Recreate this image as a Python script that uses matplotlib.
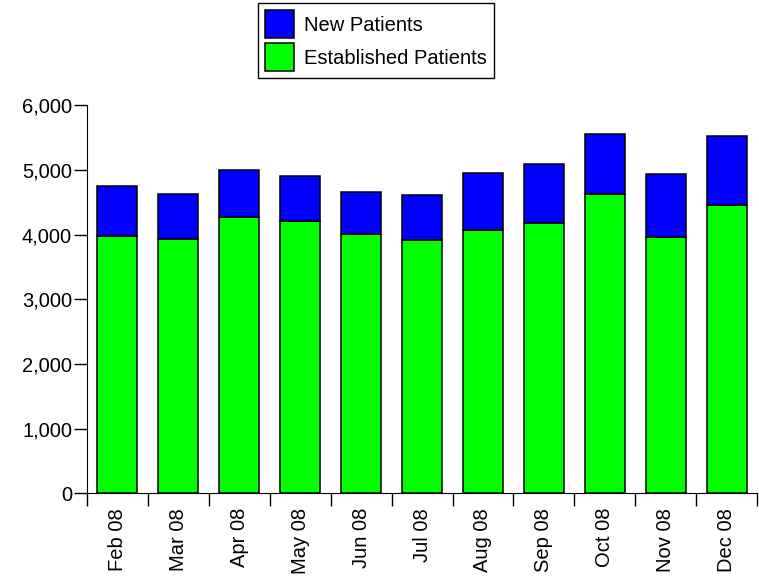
import matplotlib.pyplot as plt
import numpy as np

plt.rcParams['font.family'] = ['Liberation Sans', 'DejaVu Sans']

months = ['Feb 08', 'Mar 08', 'Apr 08', 'May 08', 'Jun 08', 'Jul 08',
          'Aug 08', 'Sep 08', 'Oct 08', 'Nov 08', 'Dec 08']
established = [3974, 3928, 4268, 4215, 4010, 3910, 4066, 4184, 4628, 3958, 4463]
new_patients = [783, 700, 727, 696, 644, 705, 882, 913, 928, 979, 1067]

fig = plt.figure(figsize=(7.59, 5.78), dpi=100)
ax = fig.add_axes([0.114, 0.1465, 0.884, 0.6715])

index = np.arange(len(months))
bar_width = 0.66

b1 = ax.bar(index, established, bar_width, color='#00ff00', edgecolor='black',
            linewidth=1.1, label='Established Patients')
b2 = ax.bar(index, new_patients, bar_width, bottom=established, color='#0000ff',
            edgecolor='black', linewidth=1.1, label='New Patients')

ax.set_xlim(-0.5, len(months) - 0.5)
ax.set_ylim(0, 6000)

ax.spines['top'].set_visible(False)
ax.spines['right'].set_visible(False)

ax.set_yticks(np.arange(0, 6001, 1000))
ax.set_yticklabels(['{:,}'.format(v) for v in range(0, 6001, 1000)])
ax.tick_params(axis='y', length=9.4, width=1, pad=1, labelsize=14.5)

ax.set_xticks(index)
ax.set_xticklabels(months, rotation=90)
ax.set_xticks(np.arange(-0.5, len(months)), minor=True)
ax.tick_params(axis='x', which='major', length=0, pad=10.5, labelsize=14.5)
ax.tick_params(axis='x', which='minor', length=9.4, width=1)

leg = fig.legend([b2, b1], ['New Patients', 'Established Patients'],
                 loc='upper center', bbox_to_anchor=(0.4954, 0.995),
                 fontsize=14.5, fancybox=False, framealpha=1, edgecolor='black',
                 handlelength=1.45, handleheight=1.77, labelspacing=0.25,
                 handletextpad=0.5, borderpad=0.35, borderaxespad=0)
leg.get_frame().set_linewidth(1)

plt.savefig('out.png', dpi=100)
